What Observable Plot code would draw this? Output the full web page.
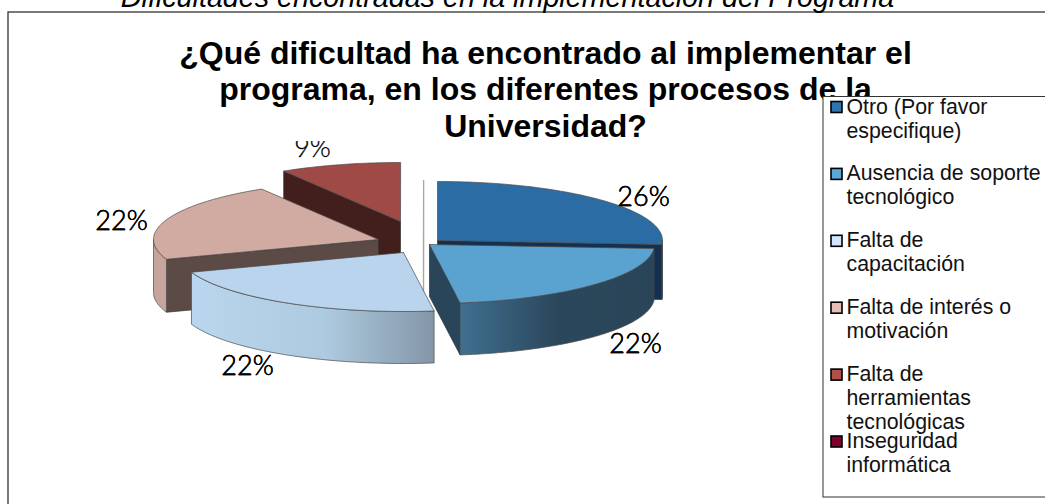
<!DOCTYPE html>
<html><head><meta charset="utf-8">
<script src="https://cdn.jsdelivr.net/npm/d3@7"></script>
<script src="https://cdn.jsdelivr.net/npm/@observablehq/plot@0.6"></script>
<style>html,body{margin:0;padding:0;background:#fff;overflow:hidden}svg{display:block}</style>
</head><body><div id="chart"></div>
<script>
const categories = ["Otro (Por favor\nespecifique)","Ausencia de soporte\ntecnológico","Falta de\ncapacitación","Falta de interés o\nmotivación","Falta de\nherramientas\ntecnológicas","Inseguridad\ninformática"];
const shares = [26.09, 21.74, 21.74, 21.74, 8.7, 0];
const swatchColors = ["#2e75b0","#5aa8da","#cfe6fb","#e6bdb2","#b0504b","#7d0030"];
const subtitle = "Dificultades encontradas en la implementación del Programa";
const title = "¿Qué dificultad ha encontrado al implementar el\nprograma, en los diferentes procesos de la\nUniversidad?";

// pie layout: slice centres after "explode", ellipse radii, extrusion depth
const RX = 225, RY = 59;
const centres = [[437,240],[429,244],[403,252],[378,239],[400,221],[423,239]];
const depths = [55,52,52,53,52,68];
const tops = ["#2c6ca4","#5aa2d0","#b9d4ec","#d1aba2","#a04a47","#a6a6a6"];
const sides = ["#15304e","#294559","#8396a7","#5c4a47","#421f1c","#a6a6a6"];
const walls = ["#15304e","url(#wall1)","url(#wall2)","#c8a59c","#421f1c","#a6a6a6"];
const labelPos = [[643,197],[635,344],[247,366],[121,221],[312,148]];

const cum = [0, ...d3.cumsum(shares)];
const ang = p => p / 100 * 2 * Math.PI;
const slices = shares.map((v,i) => ({i, a0: ang(cum[i]), a1: ang(cum[i+1]), c: centres[i], d: depths[i]}));
const pt = (s,a,dz=0) => [s.c[0] + RX*Math.sin(a), s.c[1] - RY*Math.cos(a) + dz];
const arc = (s,a0,a1,dz=0) => { const n = Math.max(2, Math.ceil((a1-a0)/0.02)); return d3.range(n+1).map(k => pt(s,a0+(a1-a0)*k/n,dz)); };
const face = (pts,fill,stroke="#4a4a4a",sw=0.7) => Plot.line([...pts,pts[0]],{x:d=>d[0],y:d=>d[1],fill,stroke,strokeWidth:sw});

function sideFace(s,a,fill){ const p = pt(s,a); return face([s.c,p,[p[0],p[1]+s.d],[s.c[0],s.c[1]+s.d]],fill,fill==="#a6a6a6"?"#a6a6a6":"#333",fill==="#a6a6a6"?1.3:0.7); }
function wall(s,a0,a1,fill){ return face([...arc(s,a0,a1),...arc(s,a0,a1,s.d).reverse()],fill); }
function topFace(s){ return face([s.c,...arc(s,s.a0,s.a1)],tops[s.i]); }

const [blue,light,pale,pink,red,zero] = slices;
const pieMarks = [
  sideFace(zero,zero.a0,sides[5]),
  sideFace(red,red.a0,sides[4]), topFace(red),
  sideFace(blue,blue.a1,sides[0]), wall(blue,Math.PI/2,blue.a1,walls[0]), topFace(blue),
  sideFace(pink,pink.a0,sides[3]), wall(pink,pink.a0,1.5*Math.PI,walls[3]), topFace(pink),
  sideFace(light,light.a1,sides[1]), wall(light,light.a0,light.a1,walls[1]), topFace(light),
  wall(pale,pale.a0,pale.a1,walls[2]), topFace(pale)
];

const pct = shares.slice(0,5).map((v,i) => ({t: d3.format(".0f")(v)+"%", x: labelPos[i][0], y: labelPos[i][1]}));
const legendRows = categories.map((name,i) => ({name, y: 107 + i*66.9}));
const lblFont = "Lato, 'Open Sans', sans-serif", sans = "'Liberation Sans', Arial, sans-serif";
const pctStyle = {x:"x",y:"y",text:"t",fontSize:27,fontWeight:300,fontFamily:lblFont,fill:"#000",stroke:"#000",strokeWidth:0.3};

const chart = Plot.plot({
  width:1045, height:504, margin:0,
  x:{domain:[0,1045],range:[0,1045],axis:null},
  y:{domain:[0,504],range:[0,504],axis:null},
  color:{domain:categories,range:swatchColors},
  style:{background:"#fff"},
  marks:[
    () => d3.create("svg:defs").html(`
      <linearGradient id="wall1" x1="0" x2="1" y1="0" y2="0"><stop offset="0" stop-color="#3f6f90"/><stop offset="0.5" stop-color="#2b475b"/><stop offset="1" stop-color="#2a4558"/></linearGradient>
      <linearGradient id="wall2" x1="0" x2="1" y1="0" y2="0"><stop offset="0" stop-color="#bad6ee"/><stop offset="0.55" stop-color="#aecae0"/><stop offset="1" stop-color="#8396a7"/></linearGradient>`).node(),
    Plot.rect([{x1:8,x2:1060,y1:12,y2:520}],{x1:"x1",x2:"x2",y1:"y1",y2:"y2",fill:"#fff",stroke:"#222",strokeWidth:1.2,clip:false}),
    Plot.text(pct,pctStyle),
    Plot.rect([{x1:150,x2:820,y1:20,y2:141}],{x1:"x1",x2:"x2",y1:"y1",y2:"y2",fill:"#fff"}),
    ...pieMarks,
    Plot.text(pct.slice(0,4),pctStyle),
    Plot.text([title],{x:()=>545,y:()=>88,text:d=>d,fontSize:32,fontWeight:"bold",fontFamily:sans,lineHeight:36.5/32,fill:"#000"}),
    Plot.text([subtitle],{x:()=>507,y:()=>-3,text:d=>d,fontSize:28.7,fontStyle:"italic",fontFamily:sans,fill:"#000"}),
    Plot.rect([{x1:823,x2:1060,y1:96.5,y2:497}],{x1:"x1",x2:"x2",y1:"y1",y2:"y2",fill:"#fff",stroke:"#333",strokeWidth:1}),
    Plot.rect(legendRows,{x1:()=>831,x2:()=>842,y1:d=>d.y-5.5,y2:d=>d.y+5.5,fill:"name",stroke:"#000",strokeWidth:1.6}),
    Plot.text(legendRows,{x:()=>846,y:d=>d.y,text:"name",textAnchor:"start",lineAnchor:"top",dy:-11,fontSize:21.3,lineHeight:24/21.3,fontFamily:sans,fill:"#111"})
  ]
});
document.getElementById("chart").append(chart);
</script></body></html>
